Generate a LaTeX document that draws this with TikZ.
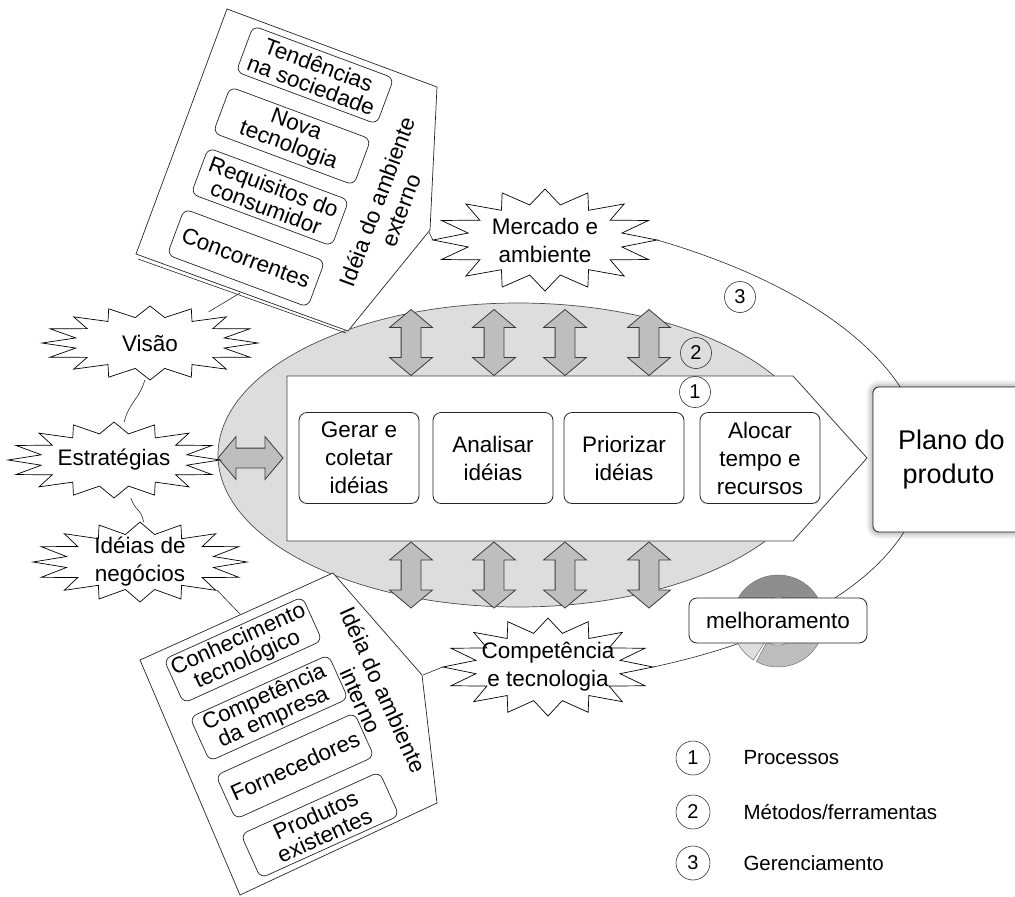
\documentclass[tikz,border=0pt]{standalone}
\usepackage{fontspec}
\setmainfont{Liberation Sans}
\usetikzlibrary{shapes.geometric,shapes.arrows,shadows.blur,calc}
\definecolor{ellgray}{HTML}{DDDDDD}
\definecolor{arrgray}{HTML}{BEBEBE}
\definecolor{edgegray}{HTML}{3A3A3A}
\definecolor{ringdark}{HTML}{8E8E8E}
\definecolor{ringmid}{HTML}{BDBDBD}
\definecolor{ringlight}{HTML}{DEDEDE}
\tikzset{
  txt/.style={font=\fontsize{22.5}{28}\selectfont, align=center},
  burstnode/.style={ellipse, inner sep=0pt},
  burstline/.style={draw=black, fill=white, line width=0.7pt, line join=miter},
  stepbox/.style={draw=black!85, rounded corners=8pt, line width=0.8pt,
    minimum width=120pt, minimum height=91pt, inner sep=2pt, txt},
  panelbox/.style={draw=black!85, rounded corners=7pt, line width=0.7pt,
    minimum width=150pt, minimum height=49pt, inner sep=1pt,
    font=\fontsize{22.5}{22}\selectfont, align=center},
  vdarrow/.style={double arrow, rotate=90, draw=edgegray, fill=arrgray,
    line width=0.8pt, minimum height=66pt, inner xsep=0pt, inner ysep=9.5pt,
    double arrow head extend=11.5pt, double arrow tip angle=100},
  numcirc/.style={circle, draw=black!80, line width=0.6pt, minimum size=31pt,
    inner sep=0pt, font=\fontsize{20}{20}\selectfont},
  legtext/.style={anchor=west, font=\fontsize{20.5}{24}\selectfont},
  thin line/.style={draw=black!85, line width=0.6pt},
}
% 16-point star round an idea: \ideaburst{centre}{x radius}{y radius}
\newcommand\ideaburst[3]{%
  \begin{scope}[shift={#1}, xscale=#2, yscale=#3]
    \draw[burstline] (0:1)
      \foreach \k in {0,...,15}{ -- ({\k*22.5+11.25}:0.7) -- ({\k*22.5+22.5}:1) }
      -- cycle;
  \end{scope}}
\begin{document}
\begin{tikzpicture}[x=1pt,y=-1pt]
\useasboundingbox (0,0) rectangle (1015,897);

% --- places of the idea bursts
\node[burstnode, minimum width=224pt, minimum height=102pt] (merc) at (545,240) {};
\node[burstnode, minimum width=216pt, minimum height=74pt] (visao) at (150,343) {};
\node[burstnode, minimum width=212pt, minimum height=76pt] (estr) at (114,460) {};
\node[burstnode, minimum width=214pt, minimum height=80pt] (idn) at (140,562) {};
\node[burstnode, minimum width=210pt, minimum height=98pt] (comp) at (548,667) {};

% --- management loop (3): outer curve and left links
\draw[thin line] (merc.east) .. controls (1013,344) and (1017,589) .. (comp.east);
\draw[thin line] (visao.-98) .. controls +(-6,20) and +(5,-20) .. (estr.75);
\draw[thin line] (estr.-66) .. controls +(5,15) and +(-3,-15) .. (idn.85);

% --- methods / tools ellipse (2)
\draw[fill=ellgray, draw=black!70, line width=0.7pt] (518,455) ellipse [x radius=300, y radius=152];

% --- process arrow (1)
\draw[fill=white, draw=black!75, line width=0.8pt]
  (287,376) -- (793,376) -- (867,458) -- (793,541) -- (287,541) -- cycle;

\node[stepbox] (gen) at (359,458) {Gerar e\\coletar\\idéias};
\node[stepbox] (ana) at (493,458) {Analisar\\idéias};
\node[stepbox] (pri) at (624,458) {Priorizar\\idéias};
\node[stepbox] (alo) at (760,458) {Alocar\\tempo e\\recursos};

% --- exchange arrows between methods and processes
\foreach \x [count=\i] in {411,494,565,649}{
  \node[vdarrow] (up\i) at (\x,342.5) {};
  \node[vdarrow] (dn\i) at (\x,575) {};
}
\node[vdarrow, rotate=-90, minimum height=65pt] (harr) at (250.5,458) {};

% --- circled numbers
\node[numcirc] (n1) at (695,392) {1};
\node[numcirc] (n2) at (696,353) {2};
\node[numcirc] (n3) at (740,297) {3};

% --- product plan box
\node[draw=black!85, fill=white, rounded corners=6pt, line width=0.8pt,
  minimum width=157pt, minimum height=145pt,
  blur shadow={shadow xshift=0pt, shadow yshift=0pt, shadow blur radius=7pt, shadow opacity=55},
  font=\fontsize{27}{34}\selectfont, align=center] (plano) at (951.5,459.5)
  {Plano do\\produto\hspace*{6pt}};

% --- improvement cycle
\coordinate (rc) at (778,621);
\filldraw[fill=ringdark, draw=black!55, line width=0.5pt]
  ($(rc)+(195:46)$) arc[start angle=195, end angle=345, radius=46]
  -- ($(rc)+(345:24)$) arc[start angle=345, end angle=195, radius=24] -- cycle;
\filldraw[fill=ringmid, draw=black!55, line width=0.5pt]
  ($(rc)+(15:46)$) arc[start angle=15, end angle=118, radius=46]
  -- ($(rc)+(118:24)$) arc[start angle=118, end angle=15, radius=24] -- cycle;
\filldraw[fill=ringlight, draw=black!55, line width=0.5pt]
  ($(rc)+(122:46)$) arc[start angle=122, end angle=170, radius=46]
  -- ($(rc)+(170:24)$) arc[start angle=170, end angle=122, radius=24] -- cycle;
\node[draw=black!85, fill=white, rounded corners=8pt, line width=0.8pt,
  minimum width=178pt, minimum height=45pt, txt] (melh) at (778,620.5) {melhoramento};

% --- external environment panel
\draw[fill=white, draw=black!85, line width=0.7pt]
  (227,9) -- (437,87) -- (430,230) -- (348,331) -- (136,254) -- cycle;
\draw[draw=black!85, line width=0.6pt] (138,259) -- (346,333);
\node[panelbox, rotate=-20.4] (tend) at (315,75) {Tendências\\na sociedade};
\node[panelbox, rotate=-20.4] (nova) at (292,136) {Nova\\tecnologia};
\node[panelbox, rotate=-20.4] (req) at (270,197) {Requisitos do\\consumidor};
\node[panelbox, rotate=-20.4] (conc) at (246,258) {Concorrentes};
\node[rotate=69.6, font=\fontsize{22.5}{25}\selectfont, align=center] (extlab) at (389,206) {Idéia do ambiente\\externo};
\coordinate (extlow) at (240,293);
\coordinate (extright) at (429,232);

% --- internal environment panel
\draw[fill=white, draw=black!85, line width=0.7pt]
  (140,660) -- (333,573) -- (422,675) -- (437,803) -- (240,895) -- cycle;
\node[panelbox, rotate=24.3, minimum width=152pt, minimum height=48pt] (conh) at (243,650) {Conhecimento\\tecnológico};
\node[panelbox, rotate=24.3, minimum width=152pt, minimum height=48pt] (cemp) at (269,708) {Competência\\da empresa};
\node[panelbox, rotate=24.3, minimum width=152pt, minimum height=48pt] (forn) at (295,766) {Fornecedores};
\node[panelbox, rotate=24.3, minimum width=152pt, minimum height=48pt] (prod) at (320,825) {Produtos\\existentes};
\node[rotate=-65.7, font=\fontsize{22.5}{25}\selectfont, align=center] (intlab) at (372,695) {Idéia do ambiente\\interno};
\coordinate (inttop) at (240,614);
\coordinate (intright) at (423,675);

% --- links from the panels to the ideas
\draw[thin line] (visao.28) -- (extlow);
\draw[thin line] (extright) -- (merc.west);
\draw[thin line] (idn.-20) -- (inttop);
\draw[thin line] (intright) -- (comp.west);

% --- the idea bursts and their words
\ideaburst{(merc)}{112}{51}
\ideaburst{(visao)}{108}{37}
\ideaburst{(estr)}{106}{38}
\ideaburst{(idn)}{107}{40}
\ideaburst{(comp)}{105}{49}
\node[txt] (merct) at (merc) {Mercado e\\ambiente};
\node[txt] (visaot) at (visao) {Visão};
\node[txt] (estrt) at (estr) {Estratégias};
\node[txt] (idnt) at (idn) {Idéias de\\negócios};
\node[txt] (compt) at (comp) {Competência\\e tecnologia};

% --- legend
\node[numcirc, minimum size=34pt] (l1) at (693,758) {1};
\node[numcirc, minimum size=34pt] (l2) at (693,812) {2};
\node[numcirc, minimum size=34pt] (l3) at (693,863) {3};
\node[legtext] (t1) at (740,758) {Processos};
\node[legtext] (t2) at (740,812) {Métodos/ferramentas};
\node[legtext] (t3) at (740,863) {Gerenciamento};
\end{tikzpicture}
\end{document}
